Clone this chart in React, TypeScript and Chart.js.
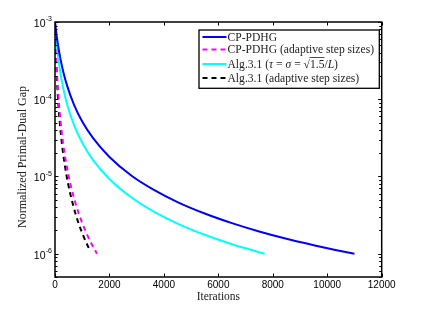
import React, { useEffect, useRef } from "react";
import { Chart, registerables } from "chart.js";

Chart.register(...registerables);

// ---- data ----
const CP_ITERS = [0, 50, 110, 200, 305, 450, 700, 1000, 1400, 2000, 2800, 3600, 4500, 5500, 6500, 7500, 8500, 9500, 10300, 11000];
const CP_GAP = [1.0e-3, 7.08e-4, 5.04e-4, 3.33e-4, 2.26e-4, 1.48e-4, 8.47e-5, 5.15e-5, 3.13e-5, 1.79e-5, 1.03e-5, 6.81e-6, 4.67e-6, 3.32e-6, 2.49e-6, 1.94e-6, 1.56e-6, 1.29e-6, 1.12e-6, 1.0e-6];

const CPA_ITERS = [0, 25, 60, 120, 200, 300, 420, 560, 750, 980, 1250, 1540];
const CPA_GAP = [1.0e-3, 5.24e-4, 2.67e-4, 1.16e-4, 5.37e-5, 2.67e-5, 1.43e-5, 8.18e-6, 4.54e-6, 2.61e-6, 1.56e-6, 1.0e-6];

const ALG_ITERS = [0, 40, 92, 180, 300, 450, 700, 1000, 1400, 2000, 2800, 3600, 4500, 5500, 6500, 7100, 7700];
const ALG_GAP = [1.0e-3, 6.5e-4, 4.21e-4, 2.42e-4, 1.4e-4, 8.47e-5, 4.62e-5, 2.74e-5, 1.63e-5, 9.29e-6, 5.38e-6, 3.56e-6, 2.46e-6, 1.76e-6, 1.33e-6, 1.15e-6, 1.0e-6];

const ALGA_ITERS = [0, 20, 50, 100, 170, 250, 350, 480, 650, 850, 1080, 1300];
const ALGA_GAP = [1.0e-3, 5.32e-4, 2.65e-4, 1.17e-4, 5.26e-5, 2.74e-5, 1.48e-5, 8.11e-6, 4.46e-6, 2.58e-6, 1.58e-6, 1.07e-6];

const X_TICKS = [0, 2000, 4000, 6000, 8000, 10000, 12000];
const Y_TICK_EXPONENTS = [-3, -4, -5, -6];
const Y_MIN = 5e-7;
const Y_MAX = 1e-3;
const X_MIN = 0;
const X_MAX = 12000;

const SERIES_LABELS = [
  "CP-PDHG",
  "CP-PDHG (adaptive step sizes)",
  "Alg.3.1 (τ = σ = √1.5/L)",
  "Alg.3.1 (adaptive step sizes)",
];
const X_TITLE = "Iterations";
const Y_TITLE = "Normalized Primal-Dual Gap";

const COLORS = ["#0000ff", "#ff00ff", "#00ffff", "#000000"];
const DASHED = [false, true, false, true];

const zip = (xs: number[], ys: number[]) => xs.map((x, i) => ({ x, y: ys[i] }));

const SERIF = '"Liberation Serif", "Times New Roman", serif';
const SANS = '"Liberation Sans", Arial, sans-serif';

const decorPlugin = {
  id: "decor",
  afterDatasetsDraw(chart: any) {
    const ctx: CanvasRenderingContext2D = chart.ctx;
    const { left, right, top, bottom } = chart.chartArea;
    const xs = chart.scales.x;
    const ys = chart.scales.y;
    ctx.save();

    // frame
    ctx.strokeStyle = "#000";
    ctx.lineWidth = 1.5;
    ctx.setLineDash([]);
    ctx.strokeRect(left, top, right - left, bottom - top);

    // ticks
    ctx.lineWidth = 1;
    const majLen = 3.5;
    const minLen = 2.5;
    ctx.beginPath();
    X_TICKS.forEach((v) => {
      const px = Math.round(xs.getPixelForValue(v)) + 0.5;
      ctx.moveTo(px, bottom);
      ctx.lineTo(px, bottom - majLen);
      ctx.moveTo(px, top);
      ctx.lineTo(px, top + majLen);
    });
    Y_TICK_EXPONENTS.forEach((e) => {
      const py = Math.round(ys.getPixelForValue(Math.pow(10, e))) + 0.5;
      ctx.moveTo(left, py);
      ctx.lineTo(left + majLen, py);
      ctx.moveTo(right, py);
      ctx.lineTo(right - majLen, py);
    });
    for (let d = -7; d <= -4; d++) {
      for (let m = 2; m <= 9; m++) {
        const v = m * Math.pow(10, d);
        if (v < Y_MIN || v > Y_MAX) continue;
        const py = Math.round(ys.getPixelForValue(v)) + 0.5;
        ctx.moveTo(left, py);
        ctx.lineTo(left + minLen, py);
        ctx.moveTo(right, py);
        ctx.lineTo(right - minLen, py);
      }
    }
    ctx.stroke();

    // x tick labels
    ctx.fillStyle = "#000";
    ctx.font = `10px ${SANS}`;
    ctx.textAlign = "center";
    ctx.textBaseline = "middle";
    X_TICKS.forEach((v) => {
      ctx.fillText(String(v), xs.getPixelForValue(v), bottom + 8.5);
    });

    // y tick labels 10^e
    Y_TICK_EXPONENTS.forEach((e) => {
      const py = ys.getPixelForValue(Math.pow(10, e));
      const sup = "-" + String(-e);
      ctx.font = `7px ${SANS}`;
      const supW = ctx.measureText(sup).width;
      const rightEdge = left - 3;
      ctx.textAlign = "left";
      ctx.textBaseline = "middle";
      ctx.fillText(sup, rightEdge - supW, py - 2.5);
      ctx.font = `10.5px ${SANS}`;
      const baseW = ctx.measureText("10").width;
      ctx.fillText("10", rightEdge - supW - baseW - 0.3, py + 2);
    });

    // axis titles
    ctx.fillStyle = "#222";
    ctx.font = `11.5px ${SERIF}`;
    ctx.textAlign = "center";
    ctx.textBaseline = "middle";
    ctx.fillText(X_TITLE, (left + right) / 2, bottom + 20);
    ctx.save();
    ctx.translate(23, 157);
    ctx.rotate(-Math.PI / 2);
    ctx.font = `12px ${SERIF}`;
    ctx.fillText(Y_TITLE, 0, 0);
    ctx.restore();

    // legend box
    const bx = right - 182.7;
    const by = top + 8;
    const bw = 180.3;
    const bh = 58.3;
    ctx.fillStyle = "#fff";
    ctx.fillRect(bx, by, bw, bh);
    ctx.strokeStyle = "#000";
    ctx.lineWidth = 1.3;
    ctx.strokeRect(bx, by, bw, bh);

    const rowY = [by + 7, by + 19.5, by + 34, by + 48];
    const fs = 11.6;
    SERIES_LABELS.forEach((label, i) => {
      const y = rowY[i];
      ctx.strokeStyle = COLORS[i];
      ctx.lineWidth = 2;
      ctx.setLineDash(DASHED[i] ? [5, 4] : []);
      ctx.beginPath();
      ctx.moveTo(bx + 3.5, y);
      ctx.lineTo(bx + 27.5, y);
      ctx.stroke();
      ctx.setLineDash([]);
      ctx.fillStyle = "#222";
      ctx.textAlign = "left";
      ctx.textBaseline = "middle";
      let tx = bx + 28.5;
      if (i === 2) {
        const segs: [string, boolean, boolean][] = [
          ["Alg.3.1 (", false, false],
          ["τ", true, false],
          [" = ", false, false],
          ["σ", true, false],
          [" = ", false, false],
          ["√", false, false],
          ["1.5", false, true],
          ["/", false, false],
          ["L", true, false],
          [")", false, false],
        ];
        segs.forEach(([s, it, over]) => {
          ctx.font = `${it ? "italic " : ""}${fs}px ${SERIF}`;
          const w = ctx.measureText(s).width;
          ctx.fillText(s, tx, y + 0.5);
          if (over) {
            ctx.strokeStyle = "#222";
            ctx.lineWidth = 0.8;
            ctx.beginPath();
            ctx.moveTo(tx - 0.5, y - 6.5);
            ctx.lineTo(tx + w, y - 6.5);
            ctx.stroke();
          }
          tx += w;
        });
      } else {
        ctx.font = `${fs}px ${SERIF}`;
        ctx.fillText(label, tx, y + 0.5);
      }
    });

    ctx.restore();
  },
};

export default function App() {
  const canvasRef = useRef<HTMLCanvasElement | null>(null);

  useEffect(() => {
    if (!canvasRef.current) return;
    const datasets = [
      zip(CP_ITERS, CP_GAP),
      zip(CPA_ITERS, CPA_GAP),
      zip(ALG_ITERS, ALG_GAP),
      zip(ALGA_ITERS, ALGA_GAP),
    ].map((data, i) => ({
      label: SERIES_LABELS[i],
      data,
      borderColor: COLORS[i],
      backgroundColor: COLORS[i],
      borderWidth: 2,
      borderDash: DASHED[i] ? [5, 4] : [],
      pointRadius: 0,
      fill: false,
      cubicInterpolationMode: "monotone" as const,
    }));
    const ordered = [datasets[0], datasets[2], datasets[1], datasets[3]];
    const chart = new Chart(canvasRef.current, {
      type: "line",
      data: { datasets: ordered },
      options: {
        animation: false,
        responsive: false,
        maintainAspectRatio: false,
        devicePixelRatio: 1,
        layout: { padding: { left: 55, top: 22, right: 40.3, bottom: 35 } },
        plugins: { legend: { display: false }, tooltip: { enabled: false } },
        scales: {
          x: { type: "linear", min: X_MIN, max: X_MAX, display: false },
          y: { type: "logarithmic", min: Y_MIN, max: Y_MAX, display: false },
        },
      },
      plugins: [decorPlugin],
    });
    return () => chart.destroy();
  }, []);

  return (
    <div style={{ position: "fixed", left: 0, top: 0, width: 422, height: 312, background: "#fff" }}>
      <canvas ref={canvasRef} width={422} height={312} style={{ width: 422, height: 312, display: "block" }} />
    </div>
  );
}
